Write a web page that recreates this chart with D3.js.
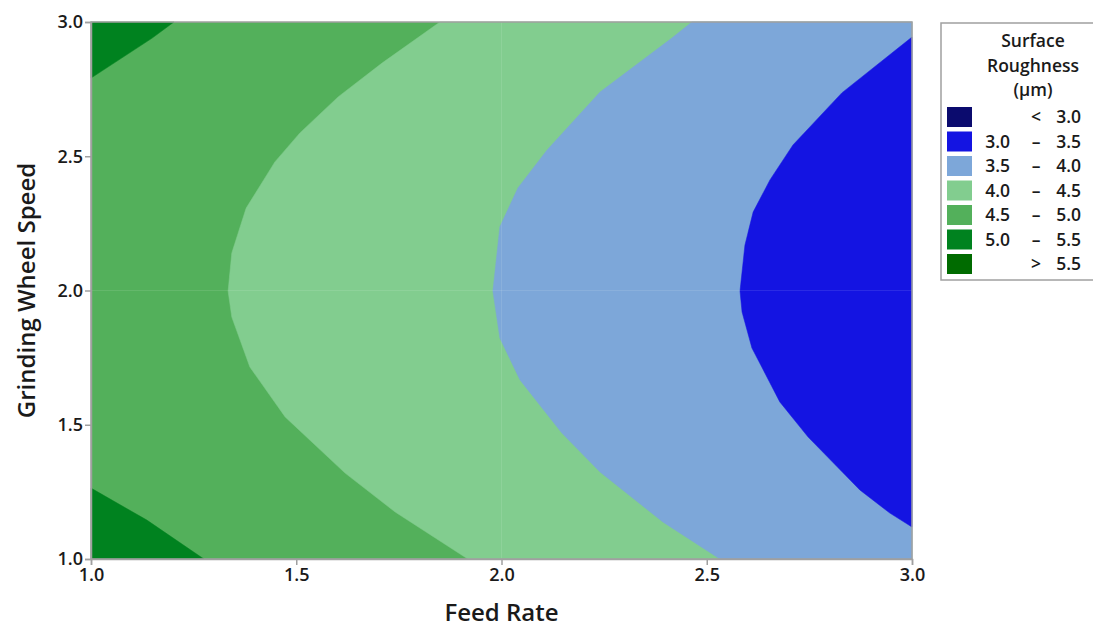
<!DOCTYPE html>
<html>
<head>
<meta charset="utf-8">
<script src="https://cdn.jsdelivr.net/npm/d3@7"></script>
<style>
  body { margin: 0; background: #fff; }
  svg text { font-family: "Open Sans", "Noto Sans", sans-serif; fill: #1a1a1a; }
</style>
</head>
<body>
<div id="chart"></div>
<script>
// axis ticks
var feedTicks = [1.0, 1.5, 2.0, 2.5, 3.0];
var speedTicks = [1.0, 1.5, 2.0, 2.5, 3.0];

// legend bands (surface roughness, µm)
var bandLow = ["", "3.0", "3.5", "4.0", "4.5", "5.0", ""];
var bandHigh = ["3.0", "3.5", "4.0", "4.5", "5.0", "5.5", "5.5"];
var bandSign = ["<", "–", "–", "–", "–", "–", ">"];
var bandColors = ["#0b0b6e", "#1414e2", "#7da7d9", "#82cd8f", "#53b05b", "#00821f", "#006b00"];

// contour lines, [feed rate, wheel speed]
var contour50Top = [[1.202, 3.0], [1.149, 2.94], [1.0, 2.791]];
var contour50Bottom = [[1.0, 1.264], [1.136, 1.145], [1.275, 1.0]];
var contour45 = [[1.850, 3.0], [1.709, 2.847], [1.602, 2.721], [1.509, 2.587], [1.448, 2.479],
  [1.378, 2.307], [1.343, 2.140], [1.334, 1.998], [1.343, 1.901], [1.387, 1.715],
  [1.473, 1.529], [1.619, 1.320], [1.741, 1.175], [1.918, 1.0]];
var contour40 = [[2.464, 3.0], [2.415, 2.940], [2.240, 2.739], [2.111, 2.523], [2.040, 2.382],
  [1.996, 2.237], [1.979, 1.998], [1.996, 1.823], [2.045, 1.667], [2.147, 1.469],
  [2.240, 1.324], [2.393, 1.138], [2.532, 1.0]];
var contour35 = [[3.0, 2.944], [2.829, 2.736], [2.710, 2.542], [2.654, 2.412], [2.613, 2.292],
  [2.593, 2.169], [2.581, 1.998], [2.586, 1.920], [2.610, 1.786], [2.678, 1.585],
  [2.747, 1.454], [2.873, 1.257], [2.946, 1.171], [3.0, 1.119]];

(function () {
  var W = 1093, H = 628;
  var mL = 91, mR = 912, mT = 22, mB = 559;

  var x = d3.scaleLinear().domain([1, 3]).range([mL, mR]);
  var y = d3.scaleLinear().domain([1, 3]).range([mB, mT]);

  var svg = d3.select("#chart").append("svg").attr("width", W).attr("height", H);

  var area = d3.line().x(function (d) { return x(d[0]); }).y(function (d) { return y(d[1]); });

  // base band 4.5 - 5.0
  svg.append("rect").attr("x", x(1)).attr("y", y(3)).attr("width", x(3) - x(1)).attr("height", y(1) - y(3))
    .attr("fill", bandColors[4]);

  // regions drawn on top of each other
  var regions = [
    { pts: contour45.concat([[3, 1], [3, 3]]), color: bandColors[3] },
    { pts: contour40.concat([[3, 1], [3, 3]]), color: bandColors[2] },
    { pts: contour35, color: bandColors[1] },
    { pts: contour50Top.concat([[1, 3]]), color: bandColors[5] },
    { pts: contour50Bottom.concat([[1, 1]]), color: bandColors[5] }
  ];
  svg.selectAll(".region").data(regions).enter().append("path")
    .attr("d", function (d) { return area(d.pts) + "Z"; })
    .attr("fill", function (d) { return d.color; })
    .attr("stroke", function (d) { return d.color; })
    .attr("stroke-width", 0.5);

  // faint seams at the centre
  svg.append("line").attr("x1", x(2)).attr("x2", x(2)).attr("y1", y(3)).attr("y2", y(1))
    .attr("stroke", "#fff").attr("stroke-opacity", 0.1);
  svg.append("line").attr("x1", x(1)).attr("x2", x(3)).attr("y1", y(2)).attr("y2", y(2))
    .attr("stroke", "#fff").attr("stroke-opacity", 0.1);

  // frame
  svg.append("rect").attr("x", x(1)).attr("y", y(3)).attr("width", x(3) - x(1)).attr("height", y(1) - y(3))
    .attr("fill", "none").attr("stroke", "#a0a0a0").attr("stroke-width", 1.5);

  // axes
  var xAxis = svg.append("g").attr("transform", "translate(0," + mB + ")")
    .call(d3.axisBottom(x).tickValues(feedTicks).tickFormat(d3.format(".1f")).tickSize(6).tickPadding(3));
  var yAxis = svg.append("g").attr("transform", "translate(" + mL + ",0)")
    .call(d3.axisLeft(y).tickValues(speedTicks).tickFormat(d3.format(".1f")).tickSize(6).tickPadding(2));
  [xAxis, yAxis].forEach(function (g) {
    g.select(".domain").attr("stroke", "#a0a0a0").attr("stroke-width", 1.5);
    g.selectAll(".tick line").attr("stroke", "#a0a0a0").attr("stroke-width", 1.5);
    g.selectAll(".tick text").attr("font-size", 18).attr("font-weight", 600)
      .attr("font-family", "Open Sans, Noto Sans, sans-serif").attr("fill", "#1a1a1a");
  });

  // axis titles
  svg.append("text").attr("x", (mL + mR) / 2).attr("y", 621).attr("text-anchor", "middle")
    .attr("font-size", 24).attr("font-weight", 600).text("Feed Rate");
  svg.append("text").attr("transform", "translate(35," + ((mT + mB) / 2) + ") rotate(-90)")
    .attr("text-anchor", "middle").attr("font-size", 24).attr("font-weight", 600).text("Grinding Wheel Speed");

  // legend
  var lg = svg.append("g");
  lg.append("rect").attr("x", 941).attr("y", 23).attr("width", 160).attr("height", 257)
    .attr("fill", "#fff").attr("stroke", "#a0a0a0").attr("stroke-width", 1.5);
  ["Surface", "Roughness", "(µm)"].forEach(function (t, i) {
    lg.append("text").attr("x", 1033).attr("y", 47 + i * 24.5).attr("text-anchor", "middle")
      .attr("font-size", 17.5).attr("font-weight", 600).text(t);
  });
  var rows = lg.selectAll(".row").data(bandColors).enter().append("g")
    .attr("transform", function (d, i) { return "translate(0," + (117 + i * 24.5) + ")"; });
  rows.append("rect").attr("x", 947).attr("y", -10).attr("width", 25).attr("height", 20)
    .attr("fill", function (d) { return d; });
  rows.append("text").attr("x", 1010).attr("y", 6).attr("text-anchor", "end").attr("font-size", 17.5)
    .attr("font-weight", 600).text(function (d, i) { return bandLow[i]; });
  rows.append("text").attr("x", 1036).attr("y", 6).attr("text-anchor", "middle").attr("font-size", 17.5)
    .attr("font-weight", 600).text(function (d, i) { return bandSign[i]; });
  rows.append("text").attr("x", 1081).attr("y", 6).attr("text-anchor", "end").attr("font-size", 17.5)
    .attr("font-weight", 600).text(function (d, i) { return bandHigh[i]; });
})();
</script>
</body>
</html>
